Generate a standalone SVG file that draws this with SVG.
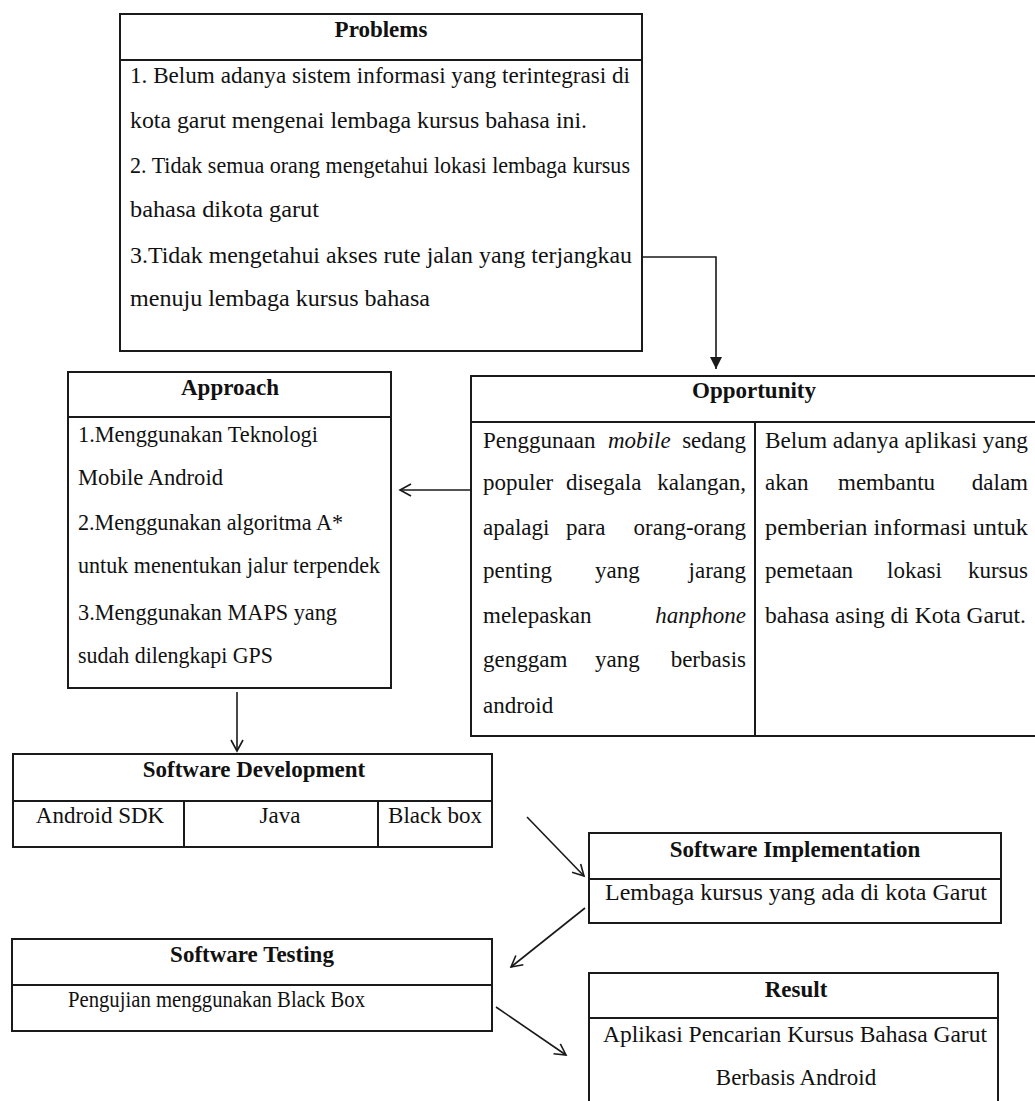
<svg xmlns="http://www.w3.org/2000/svg" width="1035" height="1101" viewBox="0 0 1035 1101">
<defs>
<style>
.box{fill:#fff;stroke:#1a1a1a;stroke-width:2}
.ln{stroke:#1a1a1a;stroke-width:2;fill:none}
text{font-family:"Liberation Serif","Times New Roman",serif;font-size:23px;fill:#111}
.t{font-weight:bold;text-anchor:middle}
.c{text-anchor:middle}
.e{text-anchor:end}
.i{font-style:italic}
.con{stroke:#1a1a1a;stroke-width:1.6;fill:none}
</style>
<marker id="open" markerWidth="16" markerHeight="16" refX="13" refY="8" orient="auto" markerUnits="userSpaceOnUse">
<path d="M2,2 L13,8 L2,14" fill="none" stroke="#1a1a1a" stroke-width="1.6"/>
</marker>
<marker id="solid" markerWidth="14" markerHeight="14" refX="12" refY="7" orient="auto" markerUnits="userSpaceOnUse">
<path d="M0,1 L12,7 L0,13 z" fill="#1a1a1a"/>
</marker>
</defs>
<rect width="1035" height="1101" fill="#fff"/>

<g id="problems">
<rect class="box" x="120" y="14" width="522" height="337"/>
<line class="ln" x1="120" y1="60" x2="642" y2="60"/>
<text class="t" x="381" y="37">Problems</text>
<text x="130" y="83" textLength="500" lengthAdjust="spacingAndGlyphs">1. Belum adanya sistem informasi yang terintegrasi di</text>
<text x="130" y="128" textLength="457" lengthAdjust="spacingAndGlyphs">kota garut mengenai lembaga kursus bahasa ini.</text>
<text x="130" y="173" textLength="500" lengthAdjust="spacingAndGlyphs">2. Tidak semua orang mengetahui lokasi lembaga kursus</text>
<text x="130" y="217" textLength="189" lengthAdjust="spacingAndGlyphs">bahasa dikota garut</text>
<text x="130" y="263" textLength="502" lengthAdjust="spacingAndGlyphs">3.Tidak mengetahui akses rute jalan yang terjangkau</text>
<text x="130" y="306" textLength="300" lengthAdjust="spacingAndGlyphs">menuju lembaga kursus bahasa</text>
</g>

<g id="opportunity">
<rect class="box" x="471" y="376" width="570" height="360"/>
<line class="ln" x1="471" y1="422" x2="1035" y2="422"/>
<line class="ln" x1="755" y1="422" x2="755" y2="736"/>
<text class="t" x="754" y="398">Opportunity</text>
<text x="483" y="448">Penggunaan</text><text class="i" x="608" y="448">mobile</text><text class="e" x="746" y="448">sedang</text>
<text x="483" y="490">populer</text><text x="566" y="490">disegala</text><text class="e" x="746" y="490">kalangan,</text>
<text x="483" y="535">apalagi</text><text x="566" y="535">para</text><text class="e" x="746" y="535">orang-orang</text>
<text x="483" y="578">penting</text><text x="595" y="578">yang</text><text class="e" x="746" y="578">jarang</text>
<text x="483" y="623">melepaskan</text><text class="i e" x="746" y="623">hanphone</text>
<text x="483" y="667">genggam</text><text x="595" y="667">yang</text><text class="e" x="746" y="667">berbasis</text>
<text x="483" y="713">android</text>
<text x="765" y="448" textLength="263" lengthAdjust="spacingAndGlyphs">Belum adanya aplikasi yang</text>
<text x="765" y="490">akan</text><text x="838" y="490">membantu</text><text class="e" x="1028" y="490">dalam</text>
<text x="765" y="535" textLength="263" lengthAdjust="spacingAndGlyphs">pemberian informasi untuk</text>
<text x="765" y="578">pemetaan</text><text x="887" y="578">lokasi</text><text class="e" x="1028" y="578">kursus</text>
<text x="765" y="623" textLength="261" lengthAdjust="spacingAndGlyphs">bahasa asing di Kota Garut.</text>
</g>

<g id="approach">
<rect class="box" x="68" y="372" width="323" height="316"/>
<line class="ln" x1="68" y1="417" x2="391" y2="417"/>
<text class="t" x="230" y="395">Approach</text>
<text x="78" y="442" textLength="240" lengthAdjust="spacingAndGlyphs">1.Menggunakan Teknologi</text>
<text x="78" y="485" textLength="145" lengthAdjust="spacingAndGlyphs">Mobile Android</text>
<text x="78" y="530" textLength="265" lengthAdjust="spacingAndGlyphs">2.Menggunakan algoritma A*</text>
<text x="78" y="573" textLength="302" lengthAdjust="spacingAndGlyphs">untuk menentukan jalur terpendek</text>
<text x="78" y="620" textLength="259" lengthAdjust="spacingAndGlyphs">3.Menggunakan MAPS yang</text>
<text x="78" y="663" textLength="195" lengthAdjust="spacingAndGlyphs">sudah dilengkapi GPS</text>
</g>

<g id="software-development">
<rect class="box" x="13" y="754" width="479" height="93"/>
<line class="ln" x1="13" y1="801" x2="492" y2="801"/>
<line class="ln" x1="184" y1="801" x2="184" y2="847"/>
<line class="ln" x1="378" y1="801" x2="378" y2="847"/>
<text class="t" x="254" y="777">Software Development</text>
<text class="c" x="100" y="823">Android SDK</text>
<text class="c" x="280" y="823">Java</text>
<text class="c" x="435" y="823">Black box</text>
</g>

<g id="software-implementation">
<rect class="box" x="589" y="833" width="412" height="90"/>
<line class="ln" x1="589" y1="879" x2="1001" y2="879"/>
<text class="t" x="795" y="857">Software Implementation</text>
<text x="605" y="900" textLength="382" lengthAdjust="spacingAndGlyphs">Lembaga kursus yang ada di kota Garut</text>
</g>

<g id="software-testing">
<rect class="box" x="12" y="939" width="480" height="92"/>
<line class="ln" x1="12" y1="985" x2="492" y2="985"/>
<text class="t" x="252" y="962">Software Testing</text>
<text x="68" y="1007" textLength="297" lengthAdjust="spacingAndGlyphs">Pengujian menggunakan Black Box</text>
</g>

<g id="result">
<rect class="box" x="589" y="973" width="409" height="140"/>
<line class="ln" x1="589" y1="1018" x2="998" y2="1018"/>
<text class="t" x="796" y="997">Result</text>
<text x="603" y="1042" textLength="384" lengthAdjust="spacingAndGlyphs">Aplikasi Pencarian Kursus Bahasa Garut</text>
<text class="c" x="796" y="1085">Berbasis Android</text>
</g>

<g id="connectors">
<path class="con" d="M642,257 H716 V369" marker-end="url(#solid)"/>
<path class="con" d="M471,490 H400" marker-end="url(#open)"/>
<path class="con" d="M237,692 V751" marker-end="url(#open)"/>
<path class="con" d="M527,817 L584,876" marker-end="url(#open)"/>
<path class="con" d="M585,908 L511,967" marker-end="url(#open)"/>
<path class="con" d="M496,1007 L566,1055" marker-end="url(#open)"/>
</g>
</svg>
